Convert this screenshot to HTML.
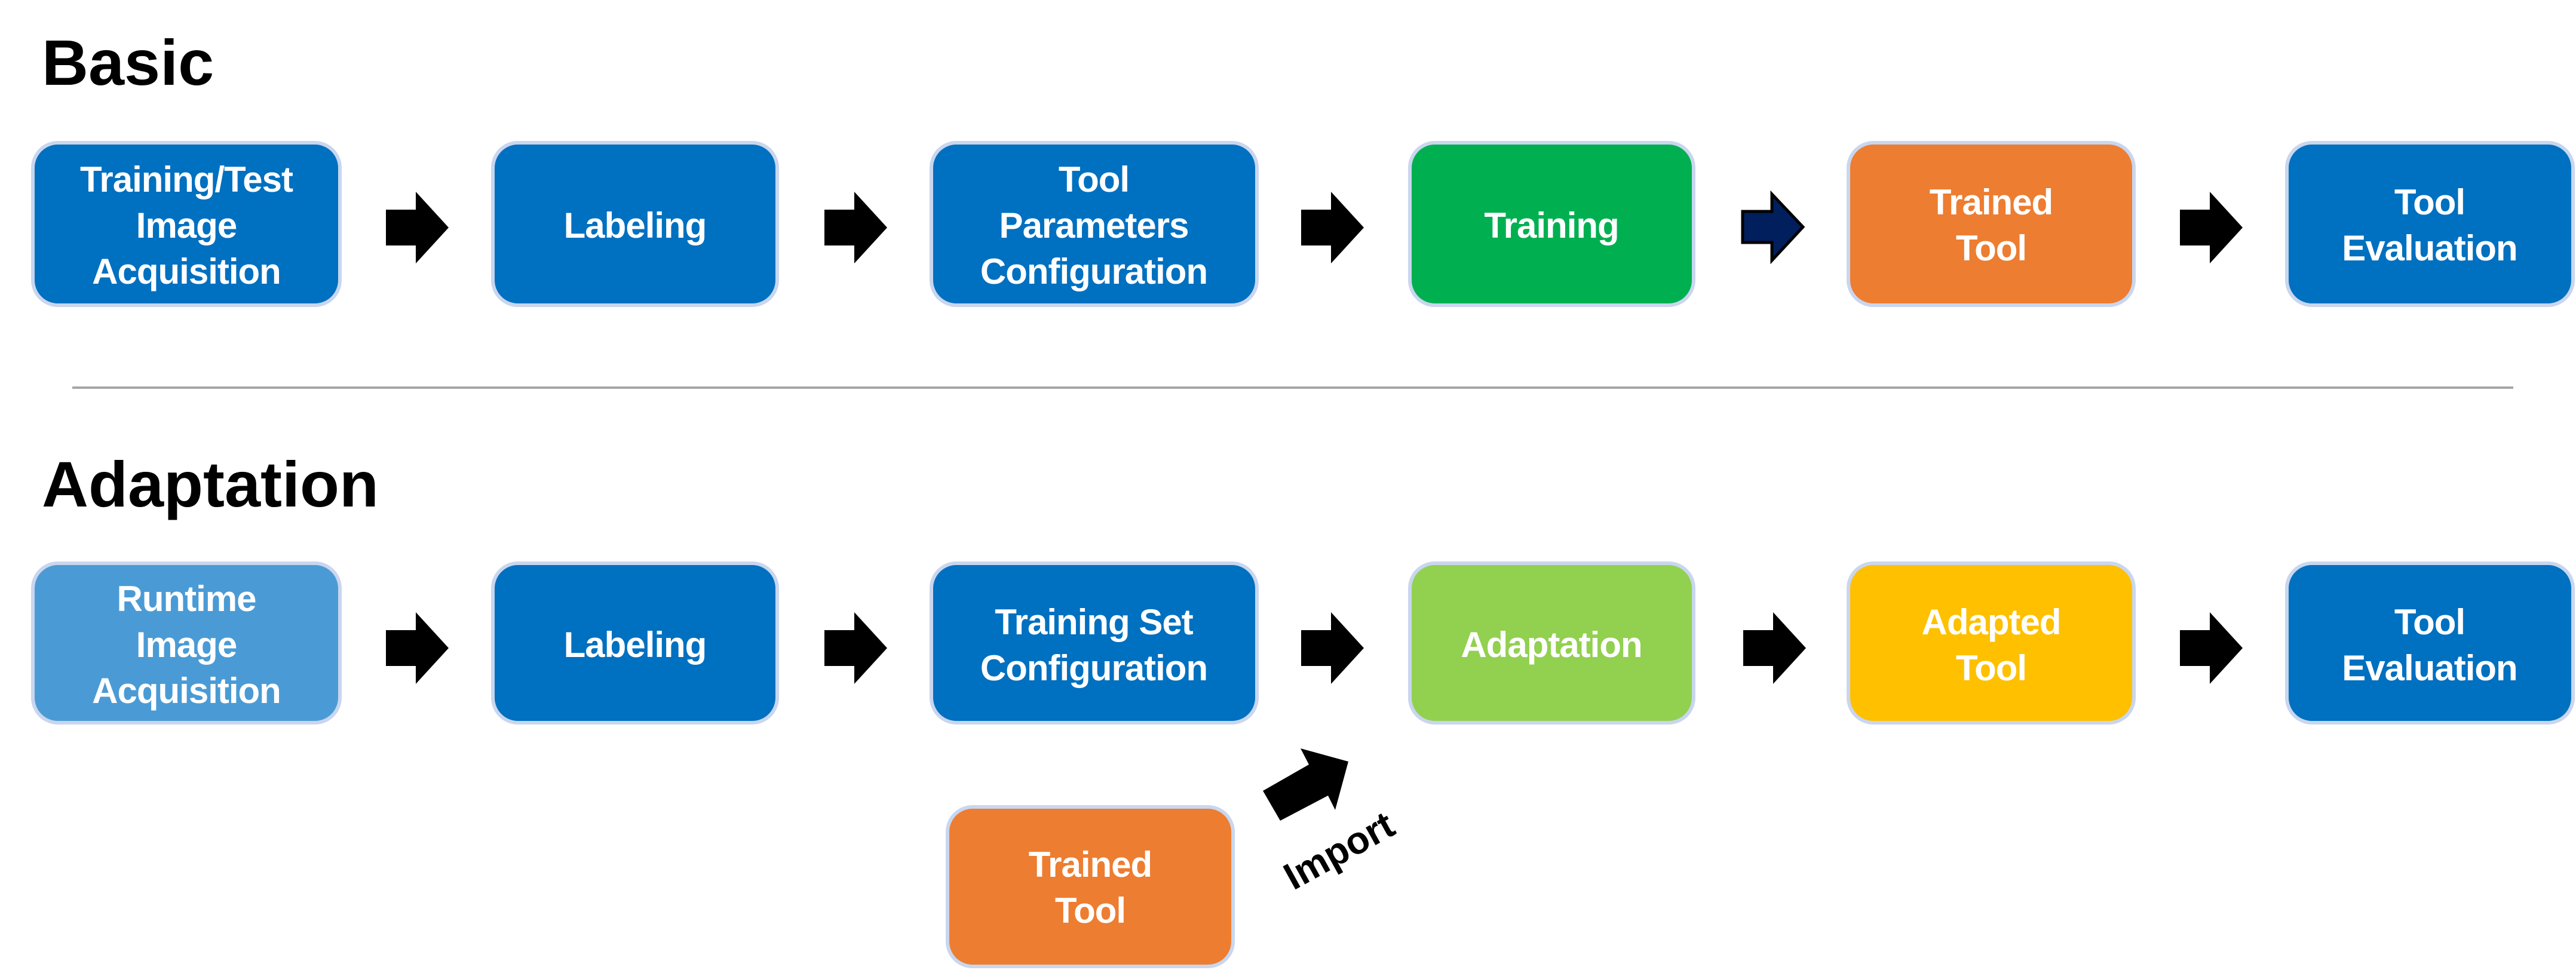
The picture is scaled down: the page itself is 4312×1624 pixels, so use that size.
<!DOCTYPE html>
<html><head><meta charset="utf-8"><style>
html,body{margin:0;padding:0;background:#fff;}
svg{display:block;}
.t{font-family:"Liberation Sans",sans-serif;font-weight:bold;fill:#fff;font-size:60px;text-anchor:middle;letter-spacing:-1px;}
.h{font-family:"Liberation Sans",sans-serif;font-weight:bold;fill:#000;font-size:108px;}
</style></head><body>
<svg width="4312" height="1624" viewBox="0 0 4312 1624" xmlns="http://www.w3.org/2000/svg">
<defs>
<g id="ar"><polygon points="0,30 50,30 50,0 105,60 50,120 50,90 0,90" fill="#000"/></g>
</defs>
<text class="h" x="70" y="142">Basic</text>
<text class="h" x="70" y="848">Adaptation</text>
<line x1="121" y1="649" x2="4207" y2="649" stroke="#a6a6a6" stroke-width="4"/>

<g stroke="#c9d6ee" stroke-width="6">
<rect x="55" y="239" width="514" height="272" rx="42" fill="#0070C0"/>
<rect x="825" y="239" width="476" height="272" rx="42" fill="#0070C0"/>
<rect x="1559" y="239" width="545" height="272" rx="42" fill="#0070C0"/>
<rect x="2360" y="239" width="475" height="272" rx="42" fill="#00B050"/>
<rect x="3094" y="239" width="478" height="272" rx="42" fill="#ED7D31"/>
<rect x="3828" y="239" width="479" height="272" rx="42" fill="#0070C0"/>

<rect x="55" y="943" width="514" height="267" rx="42" fill="#4A9BD5"/>
<rect x="825" y="943" width="476" height="267" rx="42" fill="#0070C0"/>
<rect x="1559" y="943" width="545" height="267" rx="42" fill="#0070C0"/>
<rect x="2360" y="943" width="475" height="267" rx="42" fill="#92D050"/>
<rect x="3094" y="943" width="478" height="267" rx="42" fill="#FFC000"/>
<rect x="3828" y="943" width="479" height="267" rx="42" fill="#0070C0"/>

<rect x="1586" y="1351" width="478" height="267" rx="42" fill="#ED7D31"/>
</g>

<text class="t" x="312" y="321">Training/Test</text>
<text class="t" x="312" y="398">Image</text>
<text class="t" x="312" y="475">Acquisition</text>
<text class="t" x="1063" y="398">Labeling</text>
<text class="t" x="1831" y="321">Tool</text>
<text class="t" x="1831" y="398">Parameters</text>
<text class="t" x="1831" y="475">Configuration</text>
<text class="t" x="2597" y="398">Training</text>
<text class="t" x="3333" y="359">Trained</text>
<text class="t" x="3333" y="436">Tool</text>
<text class="t" x="4067" y="359">Tool</text>
<text class="t" x="4067" y="436">Evaluation</text>

<text class="t" x="312" y="1023">Runtime</text>
<text class="t" x="312" y="1100">Image</text>
<text class="t" x="312" y="1177">Acquisition</text>
<text class="t" x="1063" y="1100">Labeling</text>
<text class="t" x="1831" y="1062">Training Set</text>
<text class="t" x="1831" y="1139">Configuration</text>
<text class="t" x="2597" y="1100">Adaptation</text>
<text class="t" x="3333" y="1062">Adapted</text>
<text class="t" x="3333" y="1139">Tool</text>
<text class="t" x="4067" y="1062">Tool</text>
<text class="t" x="4067" y="1139">Evaluation</text>
<text class="t" x="1825" y="1468">Trained</text>
<text class="t" x="1825" y="1545">Tool</text>

<use href="#ar" x="646" y="321"/>
<use href="#ar" x="1380" y="321"/>
<use href="#ar" x="2178" y="321"/>
<polygon points="2917,354 2966,354 2966,325 3018,380 2966,436 2966,406 2917,406" fill="#001F5C" stroke="#000" stroke-width="5"/>
<use href="#ar" x="3649" y="321"/>

<use href="#ar" x="646" y="1025"/>
<use href="#ar" x="1380" y="1025"/>
<use href="#ar" x="2178" y="1025"/>
<use href="#ar" x="2918" y="1025"/>
<use href="#ar" x="3649" y="1025"/>

<polygon points="2177,1253 2257,1275 2235,1356 2223,1332 2143,1374 2114,1324 2191,1280" fill="#000"/>
<text x="2252" y="1443" transform="rotate(-29 2252 1443)" style="font-family:'Liberation Sans',sans-serif;font-weight:bold;font-size:64px;text-anchor:middle;fill:#000">Import</text>
</svg>
</body></html>
